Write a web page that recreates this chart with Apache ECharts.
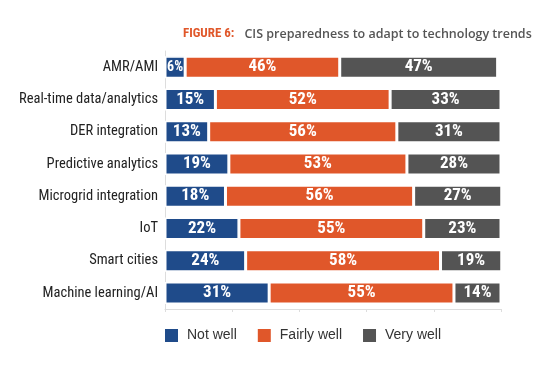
<!DOCTYPE html>
<html><head><meta charset="utf-8">
<script src="https://cdn.jsdelivr.net/npm/echarts@6/dist/echarts.min.js"></script>
<style>html,body{margin:0;padding:0;background:#fff}#c{width:535px;height:384px}</style>
</head><body><div id="c"></div>
<script>
const categories = ["AMR/AMI","Real-time data/analytics","DER integration","Predictive analytics","Microgrid integration","IoT","Smart cities","Machine learning/AI"];
const notWell = [6,15,13,19,18,22,24,31];
const fairlyWell = [46,52,56,53,56,55,58,55];
const veryWell = [47,33,31,28,27,23,19,14];
const seriesNames = ["Not well","Fairly well","Very well"];
const colors = ["#1f4b8a","#e0572a","#545454"];
const narrow = "'Liberation Sans Narrow','Arial Narrow','Roboto Condensed',sans-serif";

const chart = echarts.init(document.getElementById('c'));
const mk = (name, data, i) => ({
  name, type: 'bar', stack: 'a', barWidth: 22,
  data: data.map(v => v < 10 ? { value: v, label: { fontSize: 14 } } : v),
  itemStyle: { color: colors[i], borderColor: '#fff', borderWidth: 1.5 },
  label: { show: true, position: 'inside', formatter: '{c}%', color: '#fff',
    fontWeight: 'bold', fontSize: 17, fontFamily: narrow }
});
chart.setOption({
  animation: false,
  title: {
    text: '{a|FIGURE 6:}  {b|CIS preparedness to adapt to technology trends}',
    left: 178, top: 20,
    textStyle: { rich: {
      a: { color: '#e0572a', fontWeight: 'bold', fontSize: 13, fontFamily: narrow },
      b: { color: '#555', fontWeight: 600, fontSize: 12.5, fontFamily: "'Open Sans',sans-serif" }
    } }
  },
  legend: {
    bottom: 40, left: 163, padding: 0, itemWidth: 15, itemHeight: 15, itemGap: 19,
    icon: 'rect',
    textStyle: { fontSize: 14, color: '#333', fontFamily: "'Liberation Sans',Arial,sans-serif", padding: [0,0,0,3] },
    data: seriesNames
  },
  grid: { left: 165, right: 34, top: 51, height: 258 },
  xAxis: {
    type: 'value', min: 0, max: 100, interval: 20,
    axisLabel: { show: false }, splitLine: { show: false },
    axisLine: { show: true, lineStyle: { color: '#ddd' } },
    axisTick: { show: true, lineStyle: { color: '#ddd' }, length: 3 }
  },
  yAxis: {
    type: 'category', data: categories, inverse: true,
    axisLine: { show: true, lineStyle: { color: '#ddd' } },
    axisTick: { show: false },
    axisLabel: { fontSize: 14.5, color: '#222', fontFamily: narrow, margin: 7 }
  },
  series: [mk(seriesNames[0], notWell, 0), mk(seriesNames[1], fairlyWell, 1), mk(seriesNames[2], veryWell, 2)]
});
</script></body></html>
